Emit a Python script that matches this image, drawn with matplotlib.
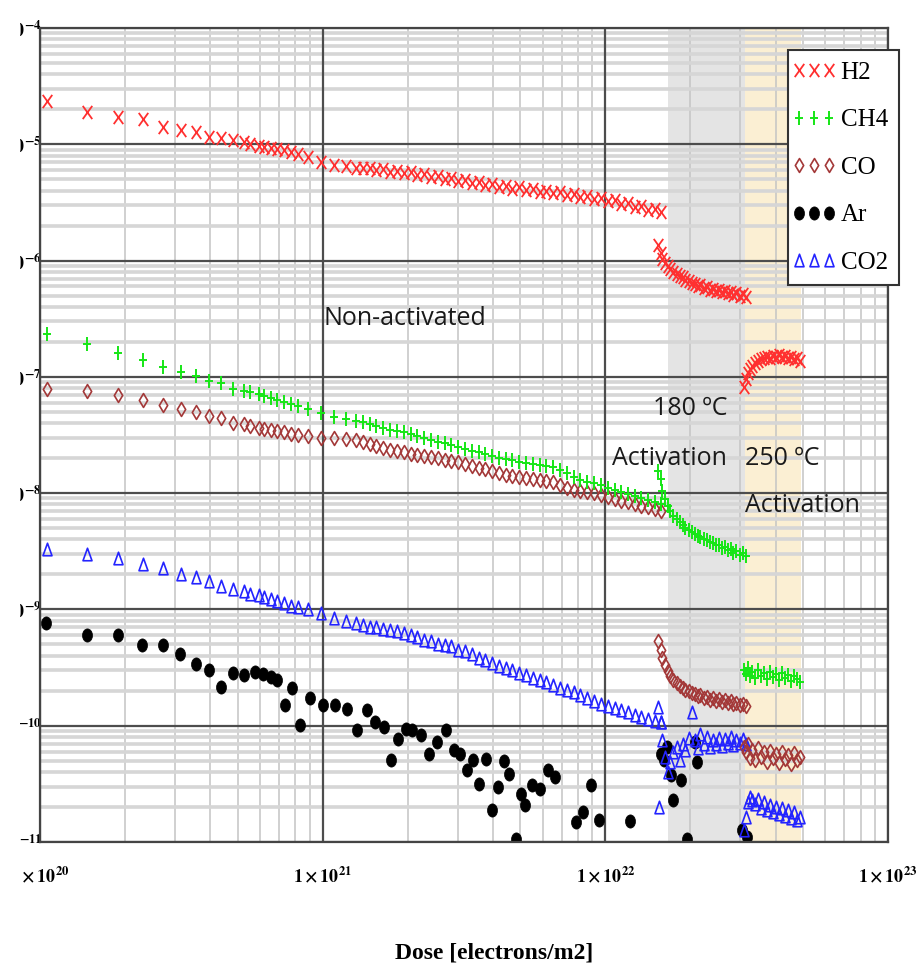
import numpy as np
import matplotlib
matplotlib.use("Agg")
import matplotlib.pyplot as plt
from matplotlib.path import Path
from matplotlib.transforms import Affine2D, Bbox, TransformedBbox
from matplotlib.ticker import LogLocator, NullFormatter
from matplotlib.font_manager import FontProperties
from matplotlib.legend_handler import HandlerLine2D

plt.rcParams["mathtext.fontset"] = "stix"
plt.rcParams["font.family"] = ["Liberation Serif", "DejaVu Serif"]

E20 = 1e20

# ---------------- non-activated run (dose in units of 1e20 electrons/m2) ----------------
dose_run = np.array([
    1.06, 1.47, 1.89, 2.32, 2.73, 3.16, 3.55, 3.97, 4.38, 4.83, 5.25, 5.55,
    5.93, 6.18, 6.54, 6.92, 7.27, 7.70, 8.15, 8.85, 9.84, 11.0, 12.1, 13.1,
    13.9, 14.7, 15.5, 16.4, 17.3, 18.3, 19.4, 20.5, 21.6, 22.9, 24.2, 25.5,
    27.0, 28.5, 30.1, 31.9, 33.7, 35.6, 37.6, 39.7, 42.0, 44.4, 46.9, 49.6,
    52.4, 55.4, 58.5, 61.8, 65.4, 69.1, 73.0, 77.2, 81.6, 86.2, 91.1, 96.3,
    102, 108, 114, 120, 127, 134, 142, 150, 158]) * E20

h2_run = [
    2.35e-5, 1.89e-5, 1.71e-5, 1.64e-5, 1.40e-5, 1.32e-5, 1.27e-5, 1.15e-5,
    1.13e-5, 1.08e-5, 1.04e-5, 1.00e-5, 9.6e-6, 9.4e-6, 9.2e-6, 9.1e-6,
    8.9e-6, 8.5e-6, 8.2e-6, 7.7e-6, 7.1e-6, 6.7e-6, 6.5e-6, 6.3e-6,
    6.21e-6, 6.30e-6, 6.02e-6, 6.10e-6, 5.80e-6, 5.95e-6, 5.65e-6, 5.80e-6,
    5.45e-6, 5.50e-6, 5.22e-6, 5.32e-6, 5.02e-6, 5.12e-6, 4.84e-6, 4.92e-6,
    4.64e-6, 4.74e-6, 4.46e-6, 4.55e-6, 4.29e-6, 4.38e-6, 4.12e-6, 4.25e-6,
    4.04e-6, 4.10e-6, 3.88e-6, 3.96e-6, 3.80e-6, 3.86e-6, 3.66e-6, 3.72e-6,
    3.51e-6, 3.58e-6, 3.37e-6, 3.45e-6, 3.24e-6, 3.31e-6, 3.05e-6, 3.12e-6,
    2.88e-6, 2.94e-6, 2.71e-6, 2.78e-6, 2.60e-6]

ch4_run = [
    2.35e-7, 1.92e-7, 1.61e-7, 1.40e-7, 1.22e-7, 1.10e-7, 1.02e-7, 9.24e-8,
    8.87e-8, 7.88e-8, 7.57e-8, 7.43e-8, 7.13e-8, 6.86e-8, 6.59e-8, 6.33e-8,
    6.08e-8, 5.85e-8, 5.62e-8, 5.30e-8, 4.89e-8, 4.52e-8, 4.35e-8, 4.18e-8,
    4.10e-8, 3.93e-8, 3.78e-8, 3.63e-8, 3.49e-8, 3.42e-8, 3.36e-8, 3.23e-8,
    3.10e-8, 2.98e-8, 2.86e-8, 2.75e-8, 2.70e-8, 2.59e-8, 2.49e-8, 2.39e-8,
    2.30e-8, 2.26e-8, 2.17e-8, 2.08e-8, 2.00e-8, 1.96e-8, 1.92e-8, 1.85e-8,
    1.81e-8, 1.78e-8, 1.74e-8, 1.71e-8, 1.68e-8, 1.58e-8, 1.49e-8, 1.37e-8,
    1.29e-8, 1.24e-8, 1.22e-8, 1.17e-8, 1.10e-8, 1.06e-8, 1.02e-8, 9.8e-9,
    9.42e-9, 9.06e-9, 8.71e-9, 8.36e-9, 8.04e-9]

co_run = [
    7.88e-8, 7.57e-8, 7.00e-8, 6.33e-8, 5.74e-8, 5.30e-8, 4.99e-8, 4.61e-8,
    4.43e-8, 4.01e-8, 3.93e-8, 3.78e-8, 3.63e-8, 3.56e-8, 3.49e-8, 3.42e-8,
    3.36e-8, 3.23e-8, 3.16e-8, 3.10e-8, 2.98e-8, 2.98e-8, 2.92e-8, 2.86e-8,
    2.75e-8, 2.64e-8, 2.54e-8, 2.44e-8, 2.35e-8, 2.30e-8, 2.26e-8, 2.17e-8,
    2.13e-8, 2.08e-8, 2.04e-8, 2.00e-8, 1.92e-8, 1.89e-8, 1.85e-8, 1.78e-8,
    1.71e-8, 1.64e-8, 1.61e-8, 1.55e-8, 1.49e-8, 1.43e-8, 1.40e-8, 1.37e-8,
    1.35e-8, 1.32e-8, 1.29e-8, 1.27e-8, 1.24e-8, 1.17e-8, 1.10e-8, 1.06e-8,
    1.04e-8, 1.02e-8, 1.00e-8, 9.62e-9, 9.24e-9, 8.88e-9, 8.53e-9, 8.36e-9,
    8.04e-9, 7.73e-9, 7.57e-9, 7.28e-9, 7.00e-9]

co2_run = [
    3.29e-9, 2.98e-9, 2.75e-9, 2.44e-9, 2.26e-9, 2.00e-9, 1.89e-9, 1.74e-9,
    1.58e-9, 1.49e-9, 1.43e-9, 1.37e-9, 1.32e-9, 1.27e-9, 1.22e-9, 1.17e-9,
    1.13e-9, 1.08e-9, 1.04e-9, 1.00e-9, 9.24e-10, 8.36e-10, 7.88e-10, 7.57e-10,
    7.28e-10, 7.13e-10, 7.00e-10, 6.73e-10, 6.59e-10, 6.46e-10, 6.21e-10, 5.97e-10,
    5.74e-10, 5.51e-10, 5.30e-10, 5.09e-10, 4.99e-10, 4.80e-10, 4.52e-10, 4.35e-10,
    4.10e-10, 3.86e-10, 3.71e-10, 3.49e-10, 3.29e-10, 3.16e-10, 3.04e-10, 2.86e-10,
    2.75e-10, 2.59e-10, 2.49e-10, 2.39e-10, 2.26e-10, 2.13e-10, 2.04e-10, 1.96e-10,
    1.85e-10, 1.74e-10, 1.64e-10, 1.55e-10, 1.49e-10, 1.43e-10, 1.37e-10, 1.32e-10,
    1.24e-10, 1.20e-10, 1.15e-10, 1.10e-10, 1.08e-10]

# ---------------- 180 ºC activation ----------------
dose_180 = np.array([
    154, 157, 159, 162, 166, 170, 174, 179, 183, 188, 192, 197, 202, 207, 212,
    217, 223, 228, 234, 240, 246, 252, 258, 264, 271, 278, 284, 291, 299, 306,
    314]) * E20

h2_180 = [
    1.35e-6, 1.17e-6, 1.04e-6, 9.61e-7, 9.06e-7, 8.53e-7, 8.04e-7, 7.73e-7,
    7.43e-7, 7.28e-7, 6.86e-7, 6.73e-7, 6.46e-7, 6.33e-7, 6.08e-7, 6.21e-7,
    5.85e-7, 5.97e-7, 5.62e-7, 5.74e-7, 5.51e-7, 5.62e-7, 5.40e-7, 5.51e-7,
    5.30e-7, 5.40e-7, 5.09e-7, 5.30e-7, 4.99e-7, 5.20e-7, 4.90e-7]

ch4_180 = [
    1.55e-8, 1.32e-8, 1.04e-8, 8.88e-9, 7.73e-9, 7.00e-9, 6.33e-9, 5.97e-9,
    5.62e-9, 5.30e-9, 4.99e-9, 4.80e-9, 4.61e-9, 4.43e-9, 4.26e-9, 4.18e-9,
    4.01e-9, 3.93e-9, 3.78e-9, 3.71e-9, 3.56e-9, 3.60e-9, 3.35e-9, 3.45e-9,
    3.22e-9, 3.32e-9, 3.08e-9, 3.18e-9, 2.95e-9, 3.05e-9, 2.86e-9]

co_180 = [
    5.30e-10, 4.52e-10, 3.86e-10, 3.36e-10, 2.98e-10, 2.70e-10, 2.49e-10, 2.35e-10,
    2.21e-10, 2.13e-10, 2.04e-10, 2.00e-10, 1.92e-10, 1.89e-10, 1.81e-10, 1.85e-10,
    1.74e-10, 1.78e-10, 1.68e-10, 1.74e-10, 1.64e-10, 1.70e-10, 1.61e-10, 1.66e-10,
    1.56e-10, 1.62e-10, 1.53e-10, 1.58e-10, 1.50e-10, 1.55e-10, 1.49e-10]

co2_180 = [
    1.46e-10, 1.08e-10, 7.57e-11, 5.40e-11, 4.01e-11, 4.90e-11, 5.97e-11, 6.59e-11,
    5.09e-11, 7.00e-11, 6.21e-11, 7.88e-11, 1.30e-10, 7.57e-11, 6.46e-11, 8.53e-11,
    7.00e-11, 8.04e-11, 6.59e-11, 7.57e-11, 7.00e-11, 7.88e-11, 6.73e-11, 7.73e-11,
    7.13e-11, 8.04e-11, 6.86e-11, 7.57e-11, 7.13e-11, 7.73e-11, 7.00e-11]
co2_180_low_dose = np.array([155]) * E20
co2_180_low = [2.0e-11]

# ---------------- 250 ºC activation ----------------
dose_250 = np.array([
    309, 314, 319, 324, 329, 338, 346, 355, 363, 372, 382, 391, 401, 411, 421,
    431, 442, 453, 464, 476, 487]) * E20

h2_250 = [
    8.20e-8, 9.61e-8, 1.08e-7, 1.17e-7, 1.24e-7, 1.32e-7, 1.37e-7, 1.43e-7,
    1.46e-7, 1.49e-7, 1.46e-7, 1.52e-7, 1.49e-7, 1.55e-7, 1.49e-7, 1.52e-7,
    1.46e-7, 1.49e-7, 1.43e-7, 1.46e-7, 1.37e-7]

ch4_250 = [
    3.04e-10, 2.81e-10, 3.16e-10, 2.70e-10, 2.92e-10, 2.59e-10, 3.04e-10, 2.70e-10,
    2.86e-10, 2.54e-10, 2.92e-10, 2.64e-10, 2.81e-10, 2.49e-10, 2.86e-10, 2.59e-10,
    2.75e-10, 2.44e-10, 2.70e-10, 2.54e-10, 2.39e-10]

co_250 = [
    6.59e-11, 5.97e-11, 7.00e-11, 5.30e-11, 6.21e-11, 5.09e-11, 6.46e-11, 5.40e-11,
    5.97e-11, 4.90e-11, 6.08e-11, 5.30e-11, 5.74e-11, 4.80e-11, 5.97e-11, 5.20e-11,
    5.62e-11, 4.70e-11, 5.85e-11, 5.09e-11, 5.40e-11]

co2_250 = [
    1.27e-11, 1.64e-11, 2.21e-11, 2.44e-11, 2.30e-11, 2.13e-11, 2.35e-11, 1.96e-11,
    2.21e-11, 1.89e-11, 2.08e-11, 1.81e-11, 2.00e-11, 1.74e-11, 1.96e-11, 1.68e-11,
    1.89e-11, 1.61e-11, 1.81e-11, 1.55e-11, 1.64e-11]

# ---------------- argon (all phases) ----------------
ar_dose = np.array([
    1.05, 1.47, 1.89, 2.30, 2.73, 3.14, 3.55, 3.97, 4.38, 4.83, 5.25, 5.74,
    6.13, 6.54, 6.92, 7.33, 7.76, 8.29, 8.99, 10.0, 11.1, 12.2, 13.2, 14.3,
    15.3, 16.5, 17.4, 18.5, 19.7, 20.7, 22.3, 23.8, 25.4, 27.3, 29.1, 30.6,
    32.4, 34.0, 35.7, 37.8, 39.7, 41.7, 43.8, 45.7, 48.3, 50.4, 52.0, 55.1,
    58.8, 62.8, 66.5, 78.9, 83.6, 89.2, 95.2, 122.6, 158.0, 161.9, 164.6,
    171.4, 174.2, 184.5, 193.8, 206.8, 210.2, 303.6, 316.2]) * E20
ar_p = [
    7.57e-10, 5.97e-10, 6.08e-10, 4.99e-10, 4.99e-10, 4.10e-10, 3.42e-10, 3.04e-10,
    2.17e-10, 2.86e-10, 2.75e-10, 2.92e-10, 2.81e-10, 2.64e-10, 2.49e-10, 1.52e-10,
    2.13e-10, 1.02e-10, 1.74e-10, 1.52e-10, 1.52e-10, 1.40e-10, 9.24e-11, 1.37e-10,
    1.08e-10, 9.80e-11, 5.09e-11, 7.73e-11, 9.42e-11, 9.24e-11, 8.36e-11, 5.74e-11,
    7.28e-11, 9.24e-11, 6.21e-11, 5.74e-11, 4.18e-11, 5.09e-11, 3.16e-11, 5.20e-11,
    1.89e-11, 2.98e-11, 4.99e-11, 3.86e-11, 1.06e-11, 2.59e-11, 2.08e-11, 3.10e-11,
    2.86e-11, 4.18e-11, 3.63e-11, 1.49e-11, 1.81e-11, 3.10e-11, 1.55e-11, 1.52e-11,
    5.74e-11, 5.09e-11, 6.59e-11, 3.78e-11, 2.30e-11, 3.42e-11, 1.06e-11, 7.28e-11,
    4.90e-11, 1.27e-11, 1.10e-11]

# activation windows (dose)
window_180 = (1.67e22, 3.11e22)
window_250 = (3.11e22, 4.91e22)

x_ticks = [1e20, 1e21, 1e22, 1e23]
x_labels = [r"$\mathbf{1\times10^{%d}}$" % e for e in (20, 21, 22, 23)]
y_ticks = [1e-11, 1e-10, 1e-9, 1e-8, 1e-7, 1e-6, 1e-5, 1e-4]
y_labels = [r"$\mathbf{1\times10^{%d}}$" % e for e in range(-11, -3)]

# ---------------- marker shapes (taller than wide) ----------------
MV, LN, CL = Path.MOVETO, Path.LINETO, Path.CLOSEPOLY
mk_cross = Path([(-0.36, -0.5), (0.36, 0.5), (-0.36, 0.5), (0.36, -0.5)], [MV, LN, MV, LN])
mk_plus = Path([(-0.34, 0.0), (0.34, 0.0), (0.0, -0.5), (0.0, 0.5)], [MV, LN, MV, LN])
mk_diam = Path([(0, 0.5), (0.3, 0), (0, -0.5), (-0.3, 0), (0, 0.5)], [MV, LN, LN, LN, CL])
mk_tri = Path([(0, 0.5), (0.36, -0.5), (-0.36, -0.5), (0, 0.5)], [MV, LN, LN, CL])
mk_dot = Path.unit_circle().transformed(Affine2D().scale(0.38, 0.5))

sty_h2 = dict(ls="none", marker=mk_cross, ms=9.5, mec="#ff3030", mfc="none", mew=1.3)
sty_ch4 = dict(ls="none", marker=mk_plus, ms=9.5, mec="#16e616", mfc="none", mew=1.4)
sty_co = dict(ls="none", marker=mk_diam, ms=10, mec="#a33838", mfc="none", mew=1.2)
sty_ar = dict(ls="none", marker=mk_dot, ms=9.5, mec="black", mfc="black", mew=0.5)
sty_co2 = dict(ls="none", marker=mk_tri, ms=9, mec="#2424ff", mfc="none", mew=1.2)

W, H = 922, 976
fig = plt.figure(figsize=(W / 100, H / 100), dpi=100)
ax = fig.add_axes([40 / W, 1 - 842 / H, 848 / W, 814 / H])
ax.set_xscale("log")
ax.set_yscale("log")
ax.set_xlim(1e20, 1e23)
ax.set_ylim(1e-11, 1e-4)

# activation windows
ax.axvspan(*window_180, color="#e4e4e4", lw=0, zorder=0.2)
ax.axvspan(*window_250, color="#fbefd3", lw=0, zorder=0.2)

# grid: light minor lines from the axes, dark decade lines on top of them
ax.set_axisbelow(True)
ax.xaxis.set_minor_locator(LogLocator(base=10, subs=np.arange(2, 10), numticks=100))
ax.yaxis.set_minor_locator(LogLocator(base=10, subs=np.arange(2, 10), numticks=100))
ax.xaxis.set_minor_formatter(NullFormatter())
ax.yaxis.set_minor_formatter(NullFormatter())
ax.grid(True, which="minor", axis="y", color="#d6d6d6", lw=2.6)
ax.grid(True, which="minor", axis="x", color="#c4c4c4", lw=1.1)
for xv in x_ticks:
    ax.axvline(xv, color="#4d4d4d", lw=1.6, zorder=0.7)
for yv in y_ticks:
    ax.axhline(yv, color="#4d4d4d", lw=1.6, zorder=0.7)
for sp in ax.spines.values():
    sp.set_color("#444444")
    sp.set_linewidth(1.6)

# data
l_ar, = ax.plot(ar_dose, ar_p, **sty_ar)
l_co2, = ax.plot(dose_run, co2_run, **sty_co2)
ax.plot(dose_180, co2_180, **sty_co2)
ax.plot(co2_180_low_dose, co2_180_low, **sty_co2)
ax.plot(dose_250, co2_250, **sty_co2)
l_co, = ax.plot(dose_run, co_run, **sty_co)
ax.plot(dose_180, co_180, **sty_co)
ax.plot(dose_250, co_250, **sty_co)
l_ch4, = ax.plot(dose_run, ch4_run, **sty_ch4)
ax.plot(dose_180, ch4_180, **sty_ch4)
ax.plot(dose_250, ch4_250, **sty_ch4)
l_h2, = ax.plot(dose_run, h2_run, **sty_h2)
ax.plot(dose_180, h2_180, **sty_h2)
ax.plot(dose_250, h2_250, **sty_h2)

# ticks and labels (labels are cut at a fixed left margin)
ax.tick_params(which="both", length=0)
ax.set_xticks(x_ticks, labels=x_labels)
ax.set_yticks(y_ticks, labels=y_labels)
ax.tick_params(axis="x", pad=17, labelsize=13)
ax.tick_params(axis="y", pad=-1.5, labelsize=13)
clip_rect = TransformedBbox(Bbox.from_extents(20 / W, 0, 1, 1), fig.transFigure)
for lab in ax.get_xticklabels() + ax.get_yticklabels():
    lab.set_clip_box(clip_rect)
    lab.set_clip_on(True)

ax.set_xlabel("Dose [electrons/m2]", fontsize=17, fontweight="bold")
ax.xaxis.set_label_coords((494 - 40) / 848, -(942 - 842) / 814)

# annotations
sans = dict(family="Open Sans", fontsize=18, color="#1a1a1a")
ax.text((323 - 40) / 848, (842 - 318) / 814, "Non-activated", transform=ax.transAxes,
        ha="left", va="center", **sans)
ax.text((727 - 40) / 848, (842 - 408) / 814, "180 ºC", transform=ax.transAxes,
        ha="right", va="center", **sans)
ax.text((727 - 40) / 848, (842 - 458) / 814, "Activation", transform=ax.transAxes,
        ha="right", va="center", **sans)
ax.text((745 - 40) / 848, (842 - 458) / 814, "250 ºC", transform=ax.transAxes,
        ha="left", va="center", **sans)
ax.text((745 - 40) / 848, (842 - 505) / 814, "Activation", transform=ax.transAxes,
        ha="left", va="center", **sans)

# legend: three markers per entry, spread over the whole handle
handles = [l_h2, l_ch4, l_co, l_ar, l_co2]
leg = ax.legend(handles, ["H2", "CH4", "CO", "Ar", "CO2"],
                loc="upper left", bbox_to_anchor=(788 / W, 1 - 50 / H),
                bbox_transform=fig.transFigure, numpoints=3,
                handler_map={h: HandlerLine2D(marker_pad=0.0) for h in handles},
                prop=FontProperties(family="Liberation Serif", size=18),
                frameon=True, fancybox=False, framealpha=1, edgecolor="#333333",
                borderpad=0.45, labelspacing=1.0, handlelength=1.2,
                handletextpad=0.45, borderaxespad=0)
leg.get_frame().set_linewidth(1.5)

fig.savefig("out.png", dpi=100)
